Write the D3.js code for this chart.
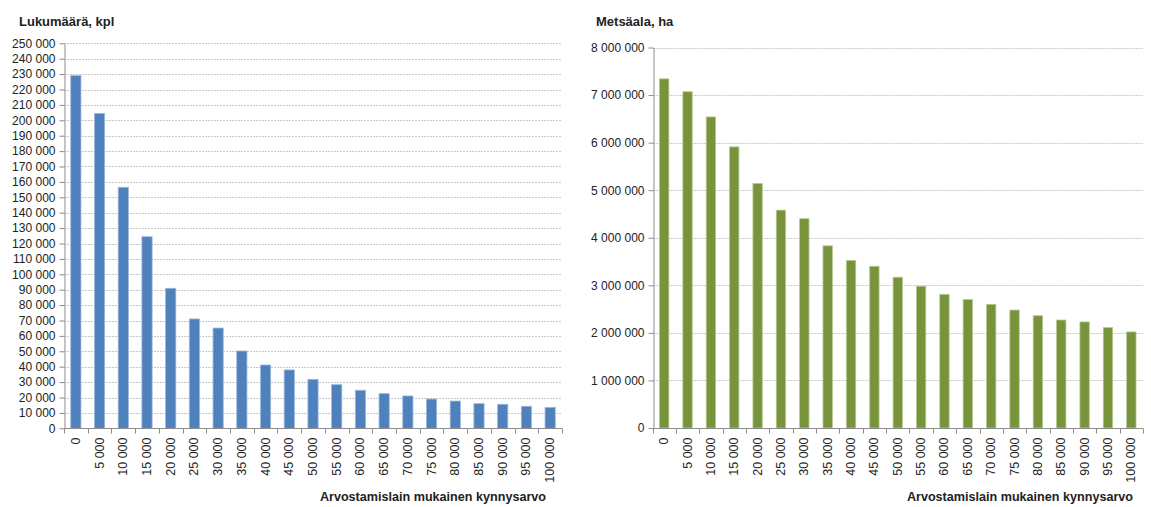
<!DOCTYPE html>
<html>
<head>
<meta charset="utf-8">
<script src="https://cdn.jsdelivr.net/npm/d3@7"></script>
<style>
  body { margin: 0; background: #fff; }
  svg text { font-family: "Liberation Sans", Arial, sans-serif; fill: #222; }
</style>
</head>
<body>
<div id="chart"></div>
<script>
// threshold categories (x axis)
var thresholds = ["0", "5 000", "10 000", "15 000", "20 000", "25 000", "30 000", "35 000",
    "40 000", "45 000", "50 000", "55 000", "60 000", "65 000", "70 000", "75 000",
    "80 000", "85 000", "90 000", "95 000", "100 000"];

// number of holdings, kpl
var counts = [229000, 204500, 156500, 124400, 90900, 71000, 65100, 50200, 41100, 37900,
    31800, 28300, 24700, 22500, 21000, 19000, 17700, 16000, 15600, 14300, 13600];

// forest area, ha
var areas = [7340000, 7070000, 6540000, 5910000, 5140000, 4580000, 4400000, 3830000,
    3520000, 3400000, 3170000, 2980000, 2810000, 2700000, 2600000, 2480000, 2360000,
    2270000, 2230000, 2110000, 2020000];

var countTicks = d3.range(0, 250001, 10000);
var areaTicks = d3.range(0, 8000001, 1000000);

var xTitle = "Arvostamislain mukainen kynnysarvo";

var fi = d3.formatLocale({ decimal: ",", thousands: "\u00a0", grouping: [3], currency: ["", " €"] });
var fmt = fi.format(",d");

var svg = d3.select("#chart").append("svg")
    .attr("width", 1151)
    .attr("height", 507);

function drawChart(cfg) {
    var g = svg.append("g");

    var x = d3.scaleBand()
        .domain(thresholds)
        .range([cfg.x0, cfg.x1])
        .paddingInner(cfg.pad)
        .paddingOuter(cfg.pad / 2);

    var y = d3.scaleLinear()
        .domain([0, cfg.max])
        .range([cfg.y0, cfg.y1]);

    // gridlines
    g.append("g")
        .selectAll("line")
        .data(cfg.ticks.filter(function(d) { return d > 0; }))
        .join("line")
        .attr("x1", cfg.x0)
        .attr("x2", cfg.x1)
        .attr("y1", function(d) { return Math.round(y(d)) + 0.5; })
        .attr("y2", function(d) { return Math.round(y(d)) + 0.5; })
        .attr("stroke", "#c8c8c8")
        .attr("stroke-dasharray", "2,1");

    // bars
    g.append("g")
        .selectAll("rect")
        .data(cfg.values)
        .join("rect")
        .attr("x", function(d, i) { return x(thresholds[i]); })
        .attr("y", function(d) { return y(d); })
        .attr("width", x.bandwidth())
        .attr("height", function(d) { return y(0) - y(d); })
        .attr("fill", cfg.color)
        .attr("stroke", cfg.edge)
        .attr("stroke-width", 0.8);

    // y axis
    var yAxis = d3.axisLeft(y)
        .tickValues(cfg.ticks)
        .tickFormat(fmt)
        .tickSize(5)
        .tickSizeOuter(0)
        .tickPadding(4);

    var ya = g.append("g")
        .attr("transform", "translate(" + (Math.round(cfg.x0) + 0.5) + ",0)")
        .call(yAxis);
    ya.select(".domain").attr("stroke", "#8c8c8c");
    ya.selectAll(".tick line").attr("stroke", "#8c8c8c");
    ya.selectAll(".tick text")
        .attr("font-size", "12px")
        .attr("fill", "#222");

    // x axis: line, ticks between categories, rotated labels
    var xa = g.append("g");
    var base = Math.round(y(0)) + 0.5;
    xa.append("line")
        .attr("x1", cfg.x0).attr("x2", cfg.x1)
        .attr("y1", base).attr("y2", base)
        .attr("stroke", "#8c8c8c");

    var step = x.step();
    var edges = d3.range(thresholds.length + 1).map(function(i) { return cfg.x0 + i * step; });
    xa.selectAll(".xt")
        .data(edges)
        .join("line")
        .attr("class", "xt")
        .attr("x1", function(d) { return Math.round(d) + 0.5; })
        .attr("x2", function(d) { return Math.round(d) + 0.5; })
        .attr("y1", base)
        .attr("y2", base + 5)
        .attr("stroke", "#8c8c8c");

    xa.selectAll("text")
        .data(thresholds)
        .join("text")
        .attr("transform", function(d) {
            return "translate(" + (x(d) + x.bandwidth() / 2 + 4) + "," + (base + 9) + ") rotate(-90)";
        })
        .attr("text-anchor", "end")
        .attr("font-size", "12.5px")
        .text(function(d) { return d; });

    // titles
    g.append("text")
        .attr("x", cfg.titleX)
        .attr("y", 26)
        .attr("font-size", "13px")
        .attr("font-weight", "bold")
        .text(cfg.title);

    g.append("text")
        .attr("x", cfg.xTitleX)
        .attr("y", 501)
        .attr("font-size", "12.6px")
        .attr("font-weight", "bold")
        .attr("text-anchor", "end")
        .text(xTitle);
}

drawChart({
    values: counts,
    ticks: countTicks,
    max: 250000,
    x0: 64, x1: 562,
    y0: 428.3, y1: 43.3,
    pad: 0.57,
    color: "#4f81bd",
    edge: "#9bb7dd",
    title: "Lukumäärä, kpl",
    titleX: 19,
    xTitleX: 546
});

drawChart({
    values: areas,
    ticks: areaTicks,
    max: 8000000,
    x0: 652.5, x1: 1143,
    y0: 428, y1: 47.5,
    pad: 0.6,
    color: "#77933c",
    edge: "#b3c98a",
    title: "Metsäala, ha",
    titleX: 596,
    xTitleX: 1133
});
</script>
</body>
</html>
